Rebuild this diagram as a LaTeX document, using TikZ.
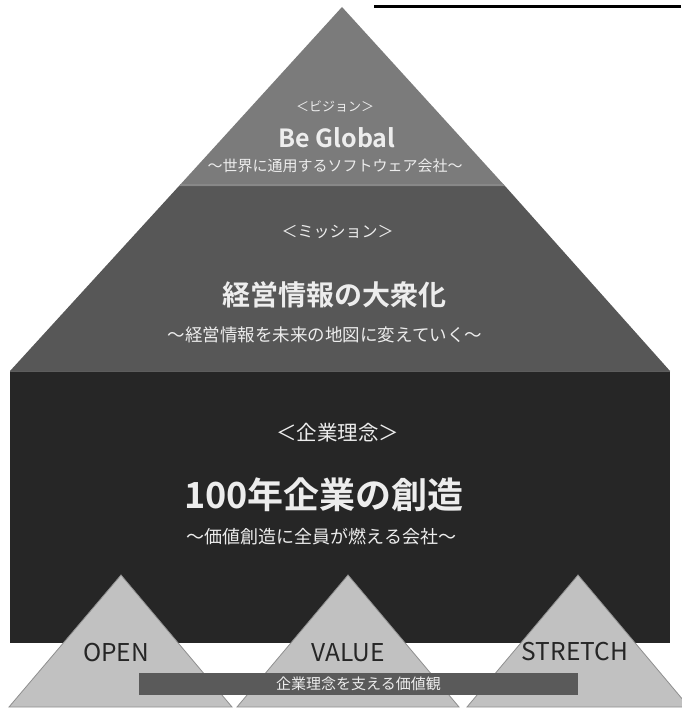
\documentclass[tikz,border=0pt]{standalone}
\usepackage{fontspec}
\setmainfont{Noto Sans CJK JP}[BoldFont={Noto Sans CJK JP Bold}]
\definecolor{visionc}{HTML}{7B7B7B}
\definecolor{bevelc}{HTML}{888888}
\definecolor{missionc}{HTML}{575757}
\definecolor{rectc}{HTML}{262626}
\definecolor{rectedge}{HTML}{5E5E5E}
\definecolor{valfill}{HTML}{C1C1C1}
\definecolor{valedge}{HTML}{8F8F8F}
\definecolor{barc}{HTML}{5A5A5A}
\definecolor{lighttext}{HTML}{EDEDED}
\definecolor{darktext}{HTML}{262626}
\tikzset{
  lt/.style={text=lighttext, inner sep=0pt, anchor=center},
  dt/.style={text=darktext, inner sep=0pt, anchor=center},
  valtri/.style={fill=valfill, draw=valedge, line width=0.8pt, line join=miter},
}
\newcommand{\fs}[1]{\fontsize{#1}{#1}\selectfont}
\begin{document}
\begin{tikzpicture}[x=1pt,y=-1pt]
\useasboundingbox (0,0) rectangle (681,709);
\fill[white] (0,0) rectangle (681,709);
% top rule
\coordinate (ruleL) at (374,7);
\coordinate (ruleR) at (681,7);
\draw[line width=3pt, black] (ruleL) -- (ruleR);
% company rectangle
\fill[rectc] (10,371) rectangle (670,643);
\draw[rectedge, line width=1pt] (10,371.5) -- (670,371.5);
% mission trapezoid
\fill[missionc] (179,186) -- (505,186) -- (670,371) -- (10,371) -- cycle;
% vision triangle
\fill[visionc] (342,7) -- (505,186) -- (179,186) -- cycle;
\draw[bevelc, line width=1.5pt] (180,185.2) -- (504,185.2);
% value triangles
\draw[valtri] (121,575) -- (232,707) -- (9,707) -- cycle;
\draw[valtri] (348,575) -- (459,707) -- (237,707) -- cycle;
\draw[valtri] (578,575) -- (689,707) -- (467,707) -- cycle;
% bar
\fill[barc] (139,673) rectangle (578,695);
% texts: vision
\node[lt] (visLabel) at (335,107) {\fs{13}＜ビジョン＞};
\node[lt] (visTitle) at (337,138) {\fs{25}\bfseries Be Global};
\node[lt] (visSub) at (335,166) {\fs{15}～世界に通用するソフトウェア会社～};
% mission
\node[lt] (misLabel) at (337.5,232) {\fs{16}＜ミッション＞};
\node[lt] (misTitle) at (334,295) {\fs{28}\bfseries 経営情報の大衆化};
\node[lt] (misSub) at (325,335) {\fs{17.5}～経営情報を未来の地図に変えていく～};
% company
\node[lt] (corpLabel) at (337.5,433) {\fs{20.5}＜企業理念＞};
\node[lt] (corpTitle) at (324,495) {\fs{36}\bfseries 100年企業の創造};
\node[lt] (corpSub) at (321.5,537) {\fs{18}～価値創造に全員が燃える会社～};
% values
\node[dt] (open) at (116,653) {\fs{24.5}OPEN};
\node[dt] (value) at (348,653) {\fs{24.5}VALUE};
\node[dt] (stretch) at (575,652) {\fs{24.5}STRETCH};
\node[lt] (barText) at (358.5,684) {\fs{15}企業理念を支える価値観};
\end{tikzpicture}
\end{document}
